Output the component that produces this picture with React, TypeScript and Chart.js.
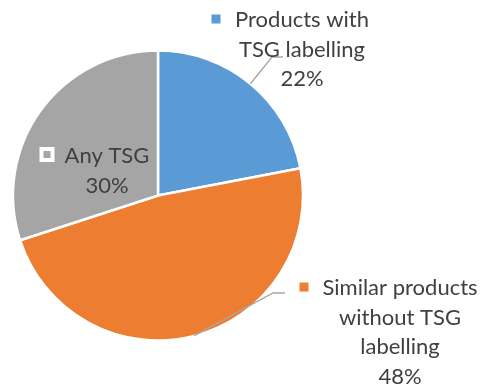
import React, { useEffect, useRef } from 'react';
import { Chart, registerables } from 'chart.js';

Chart.register(...registerables);

const categories = ['Products with TSG labelling', 'Similar products without TSG labelling', 'Any TSG'];
const labelLines = [['Products with', 'TSG labelling'], ['Similar products', 'without TSG', 'labelling'], ['Any TSG']];
const values = [22, 48, 30];
const colors = ['#5B9BD5', '#ED7D31', '#A5A5A5'];

const FONT = '22px Lato, "Open Sans", sans-serif';
const TEXT_COLOR = '#404040';
const LINE_H = 29.5;

// label layout: text centre x, first baseline y, marker centre, leader elbow [x, y, endX]
const LAYOUT = [
  { cx: 302, by: 27, mx: 216, my: 19, leader: [272, 57, 283], outlined: false },
  { cx: 400, by: 295, mx: 304, my: 287, leader: [273, 293, 285], outlined: false },
  { cx: 107, by: 163, mx: 47, my: 154.5, leader: null, outlined: true },
];

const labelPlugin = {
  id: 'sliceLabels',
  afterDatasetsDraw(chart: any) {
    const ctx = chart.ctx as CanvasRenderingContext2D;
    const meta = chart.getDatasetMeta(0);
    const total = values.reduce((a, b) => a + b, 0);
    ctx.save();
    LAYOUT.forEach((lay, i) => {
      const arc = meta.data[i];
      const p = arc.getProps(['x', 'y', 'startAngle', 'endAngle', 'outerRadius'], true);
      const mid = (p.startAngle + p.endAngle) / 2;
      if (lay.leader) {
        const sx = p.x + Math.cos(mid) * p.outerRadius;
        const sy = p.y + Math.sin(mid) * p.outerRadius;
        ctx.strokeStyle = '#A6A6A6';
        ctx.lineWidth = 1.3;
        ctx.beginPath();
        ctx.moveTo(sx, sy);
        ctx.lineTo(lay.leader[0], lay.leader[1]);
        ctx.lineTo(lay.leader[2], lay.leader[1]);
        ctx.stroke();
      }
      // marker
      const ms = 9;
      if (lay.outlined) {
        ctx.fillStyle = colors[i];
        ctx.fillRect(lay.mx - 5.5, lay.my - 5.5, 11, 11);
        ctx.strokeStyle = '#FFFFFF';
        ctx.lineWidth = 4;
        ctx.strokeRect(lay.mx - 5.5, lay.my - 5.5, 11, 11);
      } else {
        ctx.fillStyle = colors[i];
        ctx.fillRect(lay.mx - ms / 2, lay.my - ms / 2, ms, ms);
      }
      // text
      ctx.fillStyle = TEXT_COLOR;
      ctx.font = FONT;
      ctx.textAlign = 'center';
      ctx.textBaseline = 'alphabetic';
      const lines = [...labelLines[i], Math.round((values[i] / total) * 100) + '%'];
      lines.forEach((t, k) => {
        ctx.fillText(t, lay.cx, lay.by + k * LINE_H);
      });
    });
    ctx.restore();
  },
};

export default function App() {
  const ref = useRef<HTMLCanvasElement>(null);
  useEffect(() => {
    document.body.style.margin = '0';
    const chart = new Chart(ref.current!, {
      type: 'pie',
      data: {
        labels: categories,
        datasets: [
          {
            data: values,
            backgroundColor: colors,
            borderColor: '#FFFFFF',
            borderWidth: 2.5,
          },
        ],
      },
      options: {
        animation: false,
        responsive: false,
        devicePixelRatio: 1,
        radius: 145,
        layout: { padding: { left: 0, right: 166, top: 4, bottom: 0 } },
        plugins: {
          legend: { display: false },
          tooltip: { enabled: false },
        },
      } as any,
      plugins: [labelPlugin],
    });
    return () => chart.destroy();
  }, []);
  return (
    <div style={{ position: 'fixed', left: 0, top: 0, width: 482, height: 387, background: '#fff' }}>
      <canvas ref={ref} width={482} height={387} />
    </div>
  );
}
